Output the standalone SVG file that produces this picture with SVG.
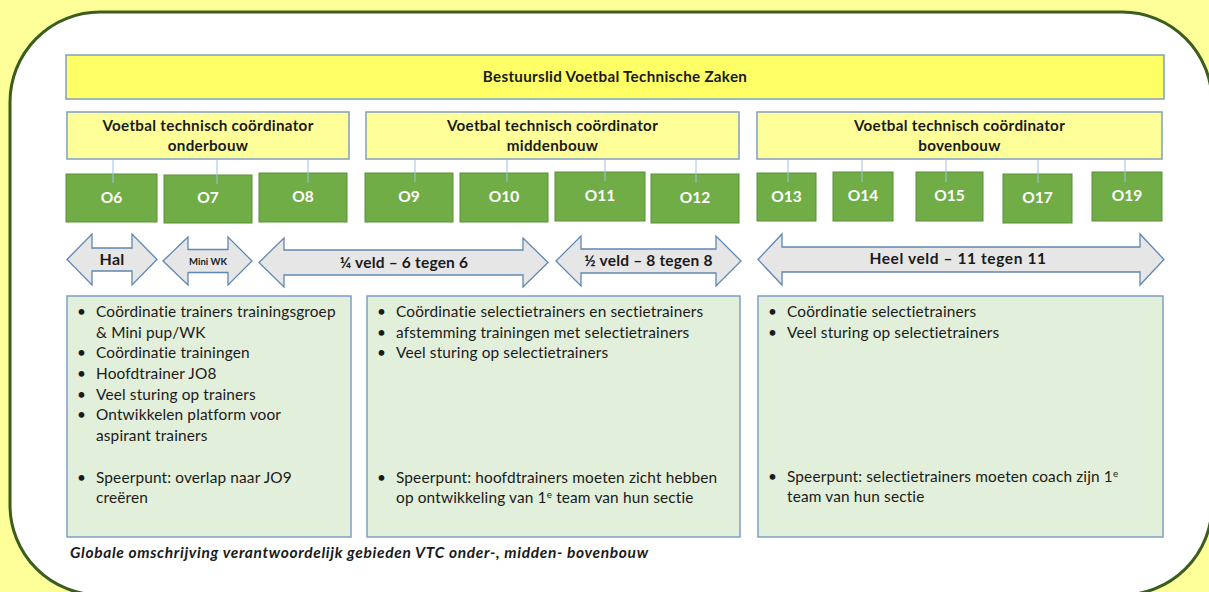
<svg xmlns="http://www.w3.org/2000/svg" width="1209" height="592" viewBox="0 0 1209 592">
  <style>
    text { font-family: Lato, "Liberation Sans", sans-serif; fill: #1a1a1a; }
    .frame { fill: #ffffff; stroke: #3b5d1f; stroke-width: 3; }
    .top { fill: #ffff66; stroke: #7f9fc8; stroke-width: 1.5; }
    .coord { fill: #ffff99; stroke: #7f9fc8; stroke-width: 1.5; }
    .team { fill: #70ad47; stroke: #5a8f37; stroke-width: 1; }
    .team-t { fill: #ffffff; font-size: 15.5px; font-weight: bold; text-anchor: middle; }
    .head { font-size: 15.2px; font-weight: bold; text-anchor: middle; letter-spacing: 0.3px; }
    .arrow { fill: #e7e6e6; stroke: #5f87b4; stroke-width: 1.3; }
    .arrow-t { font-size: 15.5px; font-weight: bold; text-anchor: middle; letter-spacing: 0.2px; }
    .note { fill: #e2efda; stroke: #7f9fc8; stroke-width: 1.5; }
    .item { font-size: 15.4px; letter-spacing: 0.15px; }
    .link { stroke: #9dc3e6; stroke-width: 1; fill: none; }
    .sup { font-size: 10px; }
  </style>

  <!-- page background and rounded frame -->
  <rect x="0" y="0" width="1209" height="592" fill="#ffff99"/>
  <rect class="frame" x="10" y="12" width="1202" height="583" rx="90" ry="90"/>

  <!-- board member -->
  <g id="bestuurslid">
    <rect class="top" x="66" y="55" width="1098" height="44"/>
    <text class="head" x="615" y="82">Bestuurslid Voetbal Technische Zaken</text>
  </g>

  <!-- coordinators -->
  <g id="vtc-onderbouw">
    <rect class="coord" x="67" y="112" width="282" height="47"/>
    <text class="head" x="208" y="131">Voetbal technisch coördinator</text>
    <text class="head" x="208" y="151">onderbouw</text>
  </g>
  <g id="vtc-middenbouw">
    <rect class="coord" x="366" y="112" width="373" height="47"/>
    <text class="head" x="552.5" y="131">Voetbal technisch coördinator</text>
    <text class="head" x="552.5" y="151">middenbouw</text>
  </g>
  <g id="vtc-bovenbouw">
    <rect class="coord" x="757" y="112" width="405" height="47"/>
    <text class="head" x="959.5" y="131">Voetbal technisch coördinator</text>
    <text class="head" x="959.5" y="151">bovenbouw</text>
  </g>

  <!-- age groups -->
  <g id="o6"><rect class="team" x="66" y="174" width="91" height="48"/><text class="team-t" x="111.5" y="203">O6</text></g>
  <g id="o7"><rect class="team" x="164" y="175" width="88" height="48"/><text class="team-t" x="208" y="203">O7</text></g>
  <g id="o8"><rect class="team" x="259" y="173" width="88" height="49"/><text class="team-t" x="303" y="202">O8</text></g>
  <g id="o9"><rect class="team" x="365" y="173" width="88" height="49"/><text class="team-t" x="409" y="202">O9</text></g>
  <g id="o10"><rect class="team" x="460" y="173" width="88" height="49"/><text class="team-t" x="504" y="202">O10</text></g>
  <g id="o11"><rect class="team" x="555" y="172" width="90" height="49"/><text class="team-t" x="600" y="201">O11</text></g>
  <g id="o12"><rect class="team" x="651" y="174" width="88" height="49"/><text class="team-t" x="695" y="203">O12</text></g>
  <g id="o13"><rect class="team" x="757" y="173" width="59" height="48"/><text class="team-t" x="786.5" y="202">O13</text></g>
  <g id="o14"><rect class="team" x="833" y="172" width="60" height="49"/><text class="team-t" x="863" y="201">O14</text></g>
  <g id="o15"><rect class="team" x="916" y="172" width="67" height="49"/><text class="team-t" x="949.5" y="201">O15</text></g>
  <g id="o17"><rect class="team" x="1003" y="174" width="69" height="49"/><text class="team-t" x="1037.5" y="203">O17</text></g>
  <g id="o19"><rect class="team" x="1092" y="172" width="70" height="49"/><text class="team-t" x="1127" y="201">O19</text></g>

  <!-- connectors coordinator to age group -->
  <g id="connectors">
    <line class="link" x1="113" y1="159" x2="113" y2="183"/>
    <line class="link" x1="217" y1="159" x2="217" y2="184"/>
    <line class="link" x1="308" y1="159" x2="308" y2="183"/>
    <line class="link" x1="415" y1="159" x2="415" y2="182"/>
    <line class="link" x1="507" y1="159" x2="507" y2="182"/>
    <line class="link" x1="605" y1="159" x2="605" y2="181"/>
    <line class="link" x1="696" y1="159" x2="696" y2="183"/>
    <line class="link" x1="788" y1="159" x2="788" y2="182"/>
    <line class="link" x1="862" y1="159" x2="862" y2="182"/>
    <line class="link" x1="946" y1="159" x2="946" y2="182"/>
    <line class="link" x1="1038" y1="159" x2="1038" y2="183"/>
    <line class="link" x1="1125" y1="159" x2="1125" y2="182"/>
  </g>

  <!-- field size arrows -->
  <g id="arrow-hal">
    <path class="arrow" d="M67,259.5 L92,234 L92,248 L132,248 L132,234 L157,259.5 L132,285 L132,271 L92,271 L92,285 Z"/>
    <text class="arrow-t" x="112" y="265" style="font-size:16px">Hal</text>
  </g>
  <g id="arrow-miniwk">
    <path class="arrow" d="M163,261 L188,237 L188,249.5 L228,249.5 L228,237 L252,261 L228,285 L228,272.5 L188,272.5 L188,285 Z"/>
    <text class="arrow-t" x="208" y="264.5" style="font-size:9.5px;letter-spacing:0">Mini WK</text>
  </g>
  <g id="arrow-kwart">
    <path class="arrow" d="M259,262.5 L284,238 L284,250 L523,250 L523,238 L548,262.5 L523,287 L523,275 L284,275 L284,287 Z"/>
    <text class="arrow-t" x="404" y="268">¼ veld – 6 tegen 6</text>
  </g>
  <g id="arrow-half">
    <path class="arrow" d="M556,261 L581,236 L581,249 L716,249 L716,236 L741,261 L716,286 L716,273 L581,273 L581,286 Z"/>
    <text class="arrow-t" x="648.5" y="266">½ veld – 8 tegen 8</text>
  </g>
  <g id="arrow-heel">
    <path class="arrow" d="M758,259.5 L782,234 L782,247 L1140,247 L1140,234 L1164,259.5 L1140,285 L1140,272 L782,272 L782,285 Z"/>
    <text class="arrow-t" x="958" y="264" style="letter-spacing:0.6px">Heel veld – 11 tegen 11</text>
  </g>

  <!-- responsibilities per section -->
  <g id="taken-onderbouw">
    <rect class="note" x="67" y="296" width="284" height="241"/>
    <g class="item">
      <text x="77" y="317">•</text><text x="96" y="317">Coördinatie trainers trainingsgroep</text>
      <text x="96" y="338">&amp; Mini pup/WK</text>
      <text x="77" y="358">•</text><text x="96" y="358">Coördinatie trainingen</text>
      <text x="77" y="379">•</text><text x="96" y="379">Hoofdtrainer JO8</text>
      <text x="77" y="400">•</text><text x="96" y="400">Veel sturing op trainers</text>
      <text x="77" y="420">•</text><text x="96" y="420">Ontwikkelen platform voor</text>
      <text x="96" y="441">aspirant trainers</text>
      <text x="77" y="483">•</text><text x="96" y="483">Speerpunt: overlap naar JO9</text>
      <text x="96" y="503">creëren</text>
    </g>
  </g>
  <g id="taken-middenbouw">
    <rect class="note" x="367" y="296" width="373" height="241"/>
    <g class="item">
      <text x="377" y="317">•</text><text x="396" y="317">Coördinatie selectietrainers en sectietrainers</text>
      <text x="377" y="338">•</text><text x="396" y="338">afstemming trainingen met selectietrainers</text>
      <text x="377" y="358">•</text><text x="396" y="358">Veel sturing op selectietrainers</text>
      <text x="377" y="483">•</text><text x="396" y="483">Speerpunt: hoofdtrainers moeten zicht hebben</text>
      <text x="396" y="503">op ontwikkeling van 1<tspan class="sup" dy="-5">e</tspan><tspan dy="5"> team van hun sectie</tspan></text>
    </g>
  </g>
  <g id="taken-bovenbouw">
    <rect class="note" x="758" y="296" width="405" height="241"/>
    <g class="item">
      <text x="768" y="317">•</text><text x="787" y="317">Coördinatie selectietrainers</text>
      <text x="768" y="338">•</text><text x="787" y="338">Veel sturing op selectietrainers</text>
      <text x="768" y="482">•</text><text x="787" y="482">Speerpunt: selectietrainers moeten coach zijn 1<tspan class="sup" dy="-5">e</tspan></text>
      <text x="787" y="502">team van hun sectie</text>
    </g>
  </g>

  <!-- caption -->
  <text x="70" y="558" style="font-size:15.5px;font-weight:bold;font-style:italic;letter-spacing:0.65px">Globale omschrijving verantwoordelijk gebieden VTC onder-, midden- bovenbouw</text>
</svg>
